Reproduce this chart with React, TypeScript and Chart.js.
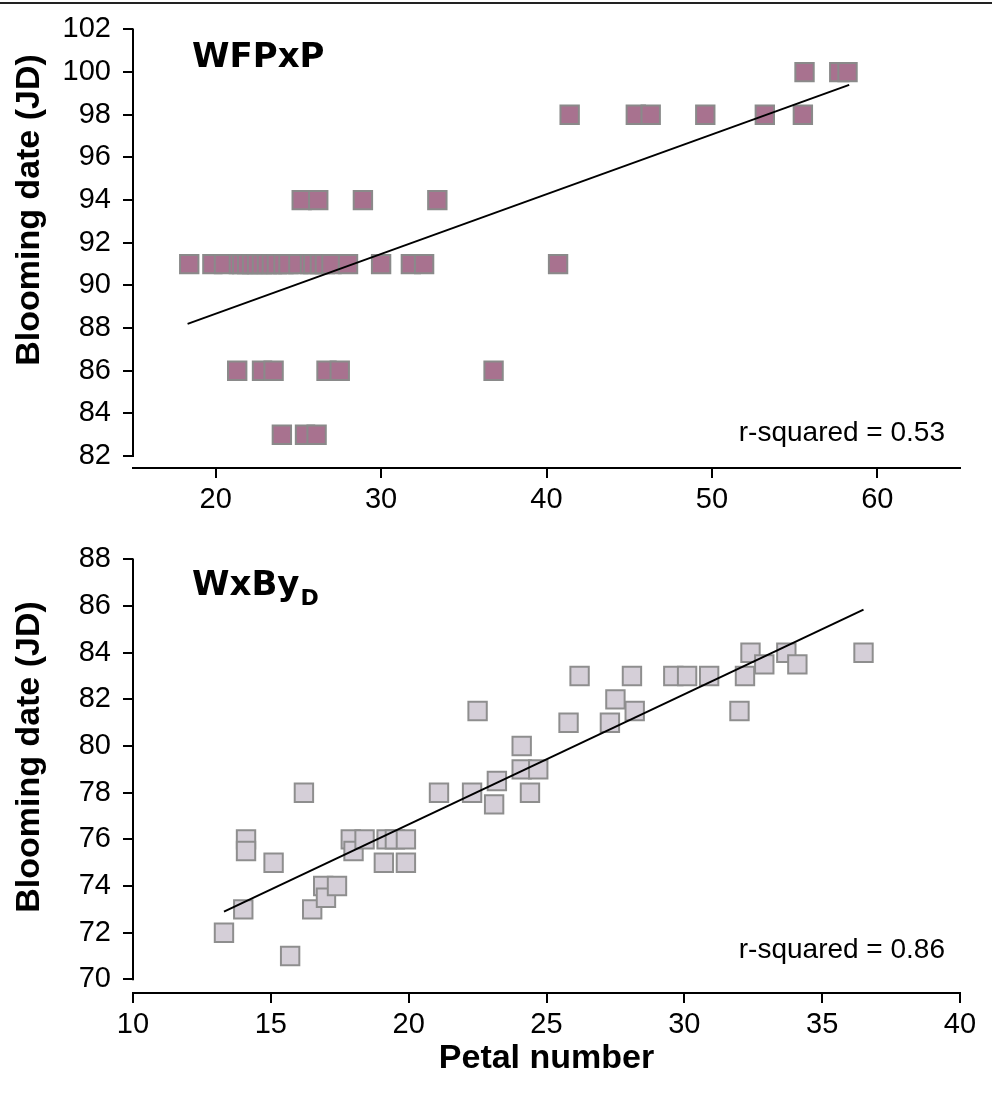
import React, { useEffect, useRef } from "react";
import { Chart, registerables } from "chart.js";
Chart.register(...registerables);

// ---------- DATA: top panel (WFPxP) ----------
const topPetal = [
  55.6, 57.7, 58.2,
  41.4, 45.4, 46.3, 49.6, 53.2, 55.5,
  25.2, 26.2, 28.9, 33.4,
  18.4, 19.8, 20.5, 21.4, 21.6, 21.9, 22.2, 22.5, 22.8, 23.1, 23.4, 23.7, 24.1, 24.4, 25.0, 25.7, 25.9, 26.3, 26.6, 27.0, 28.0, 30.0, 31.8, 32.6, 40.7,
  21.3, 22.8, 23.5, 26.7, 27.5, 36.8,
  24.0, 25.4, 26.1,
];
const topBloom = [
  100, 100, 100,
  98, 98, 98, 98, 98, 98,
  94, 94, 94, 94,
  91, 91, 91, 91, 91, 91, 91, 91, 91, 91, 91, 91, 91, 91, 91, 91, 91, 91, 91, 91, 91, 91, 91, 91, 91,
  86, 86, 86, 86, 86, 86,
  83, 83, 83,
];
const topTrendX = [18.3, 58.3];
const topTrendY = [88.2, 99.4];
const topXTicks = [20, 30, 40, 50, 60];
const topYTicks = [82, 84, 86, 88, 90, 92, 94, 96, 98, 100, 102];

// ---------- DATA: bottom panel (WxByD) ----------
const botPetal = [
  13.3, 14.0, 14.1, 14.1, 15.1, 15.7, 16.2, 16.5, 16.9, 17.0, 17.4, 17.9, 18.0, 18.4, 19.1,
  19.2, 19.5, 19.9, 19.9, 21.1, 22.3, 22.5, 23.1, 23.2, 24.1, 24.1, 24.4, 24.7, 25.8, 26.2,
  27.3, 27.5, 28.1, 28.2, 29.6, 30.1, 30.9, 32.0, 32.2, 32.4, 32.9, 33.7, 34.1, 36.5,
];
const botBloom = [
  72, 73, 76, 75.5, 75, 71, 78, 73, 74, 73.5, 74, 76, 75.5, 76, 75,
  76, 76, 76, 75, 78, 78, 81.5, 77.5, 78.5, 80, 79, 78, 79, 81, 83,
  81, 82, 83, 81.5, 83, 83, 83, 81.5, 83, 84, 83.5, 84, 83.5, 84,
];
const botTrendX = [13.3, 36.5];
const botTrendY = [72.9, 85.85];
const botXTicks = [10, 15, 20, 25, 30, 35, 40];
const botYTicks = [70, 72, 74, 76, 78, 80, 82, 84, 86, 88];

const FONT = "'Liberation Sans', Arial, sans-serif";
const TICK_FONT = "'Liberation Sans Narrow', 'Arial Narrow', 'Liberation Sans', Arial, sans-serif";
const TITLE_FONT = "'DejaVu Sans', Verdana, sans-serif";

type PanelCfg = {
  height: number;
  padTop: number;
  xAxisH: number;
  xMin: number; xMax: number;
  yMin: number; yMax: number;
  yLow: number;
  xTicks: number[]; yTicks: number[];
  px: number[]; py: number[];
  tx: number[]; ty: number[];
  fill: string; border: string;
  titleMain: string; titleSub: string; titleBaseline: number;
  rsq: string; rsqBaseline: number;
  yTitleCenter: number;
  xTitle: string; xTitleBaseline: number;
};

function buildChart(canvas: HTMLCanvasElement, c: PanelCfg) {
  const textPlugin = {
    id: "panelText",
    afterDraw(chart: any) {
      const { ctx, chartArea, scales } = chart;
      const ys = scales.y;
      ctx.save();
      // y axis line from top tick to bottom tick
      ctx.strokeStyle = "#000";
      ctx.lineWidth = 2;
      ctx.beginPath();
      ctx.moveTo(chartArea.left, ys.getPixelForValue(c.yMax) - 1);
      ctx.lineTo(chartArea.left, ys.getPixelForValue(c.yLow) + 1);
      ctx.stroke();
      // panel title
      ctx.fillStyle = "#000";
      ctx.textBaseline = "alphabetic";
      ctx.textAlign = "left";
      ctx.font = `bold 34px ${TITLE_FONT}`;
      ctx.fillText(c.titleMain, 192, c.titleBaseline);
      if (c.titleSub) {
        const w = ctx.measureText(c.titleMain).width;
        ctx.font = `bold 22px ${TITLE_FONT}`;
        ctx.fillText(c.titleSub, 192 + w + 1, c.titleBaseline + 10);
      }
      // r-squared
      ctx.font = `28px ${FONT}`;
      ctx.textAlign = "right";
      ctx.fillText(c.rsq, 945, c.rsqBaseline);
      // y title
      ctx.save();
      ctx.translate(30, c.yTitleCenter);
      ctx.rotate(-Math.PI / 2);
      ctx.textAlign = "center";
      ctx.textBaseline = "middle";
      ctx.font = `bold 34px ${FONT}`;
      ctx.fillText("Blooming date (JD)", 0, 0);
      ctx.restore();
      if (c.xTitle) {
        ctx.textAlign = "center";
        ctx.font = `bold 34px ${FONT}`;
        ctx.fillText(c.xTitle, (chartArea.left + chartArea.right) / 2, c.xTitleBaseline);
      }
      ctx.restore();
    },
  };

  return new Chart(canvas, {
    type: "scatter",
    data: {
      datasets: [
        {
          type: "line",
          data: c.tx.map((x, i) => ({ x, y: c.ty[i] })),
          borderColor: "#000",
          borderWidth: 2,
          pointRadius: 0,
          showLine: true,
          fill: false,
          order: 0,
        } as any,
        {
          data: c.px.map((x, i) => ({ x, y: c.py[i] })),
          pointStyle: "rect",
          pointRadius: 13,
          backgroundColor: c.fill,
          borderColor: c.border,
          borderWidth: 2,
          order: 1,
        },
      ],
    },
    options: {
      responsive: false,
      animation: false,
      devicePixelRatio: 1,
      layout: { padding: { left: 0, right: 32, top: c.padTop, bottom: 0 } },
      plugins: { legend: { display: false }, tooltip: { enabled: false } },
      elements: { point: { hoverRadius: 13 } },
      scales: {
        x: {
          type: "linear",
          min: c.xMin,
          max: c.xMax,
          afterBuildTicks: (s: any) => { s.ticks = c.xTicks.map((v) => ({ value: v })); },
          afterFit: (s: any) => { s.height = c.xAxisH; },
          border: { display: true, color: "#000", width: 2 },
          grid: { drawOnChartArea: false, drawTicks: true, tickLength: 10, color: "#000", lineWidth: 2 },
          ticks: { color: "#000", font: { family: TICK_FONT, size: 29 }, padding: 5, maxRotation: 0 },
        },
        y: {
          type: "linear",
          min: c.yMin,
          max: c.yMax,
          afterBuildTicks: (s: any) => { s.ticks = c.yTicks.map((v) => ({ value: v })); },
          afterFit: (s: any) => { s.width = 133; },
          border: { display: false },
          grid: { drawOnChartArea: false, drawTicks: true, tickLength: 10, color: "#000", lineWidth: 2 },
          ticks: { color: "#000", font: { family: TICK_FONT, size: 29 }, padding: 12 },
        },
      },
    },
    plugins: [textPlugin],
  } as any);
}

const TOP_H = 530;
const BOT_H = 564;

const topCfg: PanelCfg = {
  height: TOP_H,
  padTop: 25,
  xAxisH: TOP_H - 468,
  xMin: 15, xMax: 65,
  yMin: 82 - 12 / 21.55, yMax: 102, yLow: 82,
  xTicks: topXTicks, yTicks: topYTicks,
  px: topPetal, py: topBloom,
  tx: topTrendX, ty: topTrendY,
  fill: "#a8728f", border: "#8a8a8a",
  titleMain: "WFPxP", titleSub: "", titleBaseline: 67,
  rsq: "r-squared = 0.53", rsqBaseline: 441,
  yTitleCenter: 210,
  xTitle: "", xTitleBaseline: 0,
};

const botCfg: PanelCfg = {
  height: BOT_H,
  padTop: 18,
  xAxisH: BOT_H - 463,
  xMin: 10, xMax: 40,
  yMin: 70 - 14 / 23.944, yMax: 88, yLow: 70,
  xTicks: botXTicks, yTicks: botYTicks,
  px: botPetal, py: botBloom,
  tx: botTrendX, ty: botTrendY,
  fill: "#d5cfd8", border: "#8e8e8e",
  titleMain: "WxBy", titleSub: "D", titleBaseline: 65,
  rsq: "r-squared = 0.86", rsqBaseline: 428,
  yTitleCenter: 227,
  xTitle: "Petal number", xTitleBaseline: 538,
};

function Panel({ cfg, top }: { cfg: PanelCfg; top: number }) {
  const ref = useRef<HTMLCanvasElement>(null);
  useEffect(() => {
    if (!ref.current) return;
    const ch = buildChart(ref.current, cfg);
    return () => ch.destroy();
  }, [cfg]);
  return (
    <canvas
      ref={ref}
      width={992}
      height={cfg.height}
      style={{ position: "absolute", left: 0, top, width: 992, height: cfg.height }}
    />
  );
}

export default function App() {
  return (
    <div style={{ position: "absolute", left: 0, top: 0, width: 992, height: 1094, background: "#fff", overflow: "hidden" }}>
      <div style={{ position: "absolute", left: 0, top: 2, width: 992, height: 2, background: "#222" }} />
      <Panel cfg={topCfg} top={0} />
      <Panel cfg={botCfg} top={TOP_H} />
    </div>
  );
}
